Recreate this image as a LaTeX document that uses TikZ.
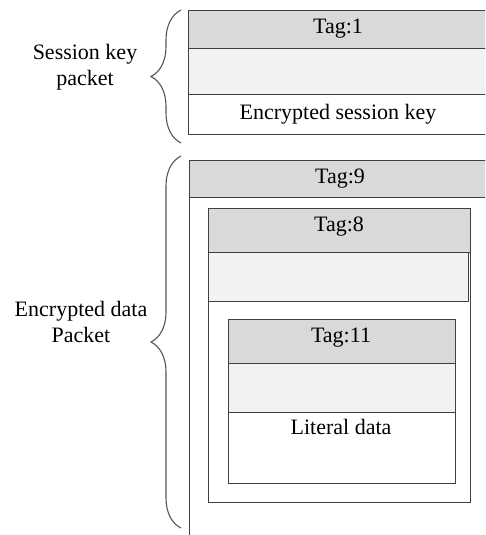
\documentclass[tikz,border=0pt]{standalone}
\usepackage{fontspec}
\setmainfont{Liberation Serif}
\newfontfamily\pktserif{Liberation Serif}
\usetikzlibrary{decorations.pathreplacing}
\definecolor{tagfill}{HTML}{D9D9D9}
\definecolor{midfill}{HTML}{F2F2F2}
\definecolor{edge}{HTML}{404040}
\definecolor{bracec}{HTML}{555555}
\tikzset{
  row/.style={draw=edge, line width=1.4pt, rectangle, inner sep=0pt, anchor=north west},
  tagrow/.style={row, fill=tagfill},
  midrow/.style={row, fill=midfill},
  whiterow/.style={row, fill=white},
  box/.style={draw=edge, line width=1.4pt, rectangle, inner sep=0pt, anchor=north west, fill=white},
  txt/.style={font=\pktserif\fontsize{22}{26}\selectfont, text=black, anchor=base, inner sep=0pt},
  lbl/.style={font=\pktserif\fontsize{22}{26}\selectfont, text=black, align=center, inner sep=0pt},
  curly/.style={draw=bracec, line width=1.1pt, decorate, decoration={brace, amplitude=30pt, aspect=0.5}}
}
\begin{document}
\begin{tikzpicture}[x=1pt, y=-1pt]
\useasboundingbox (0,0) rectangle (485,535);
\clip (0,0) rectangle (485,535);
\fill[white] (0,0) rectangle (485,535);

% Session key packet
\node[tagrow, minimum width=300pt, minimum height=38pt] (t1) at (188,10) {};
\node[midrow, minimum width=300pt, minimum height=46pt] (m1) at (188,48) {};
\node[whiterow, minimum width=300pt, minimum height=40pt] (w1) at (188,94) {};
\node[txt] (t1txt) at (338,34) {Tag:1};
\node[txt] (w1txt) at (338,119) {Encrypted session key};

% Encrypted data packet (Tag 9)
\node[box, minimum width=300pt, minimum height=400pt] (b9) at (189,160) {};
\node[tagrow, minimum width=300pt, minimum height=37pt] (t9) at (189,160) {};
\node[txt] (t9txt) at (340,183) {Tag:9};

% Tag 8
\node[box, minimum width=262pt, minimum height=294pt] (b8) at (208,208) {};
\node[tagrow, minimum width=262pt, minimum height=44pt] (t8) at (208,208) {};
\node[midrow, minimum width=260pt, minimum height=49pt] (m8) at (208,252) {};
\node[txt] (t8txt) at (339,231) {Tag:8};

% Tag 11
\node[box, minimum width=227pt, minimum height=164pt] (b11) at (228,319) {};
\node[tagrow, minimum width=227pt, minimum height=44pt] (t11) at (228,319) {};
\node[midrow, minimum width=227pt, minimum height=49pt] (m11) at (228,363) {};
\node[txt] (t11txt) at (341,342) {Tag:11};
\node[txt] (ldtxt) at (341,434) {Literal data};

% Braces
\coordinate (br1a) at (181,143);
\coordinate (br1b) at (181,10);
\draw[curly] (br1a) -- (br1b);
\coordinate (br2a) at (181,528);
\coordinate (br2b) at (181,156);
\draw[curly] (br2a) -- (br2b);

% Labels
\node[lbl] (lab1) at (85,67) {Session key\\packet};
\node[lbl] (lab2) at (81,322) {Encrypted data\\Packet};
\end{tikzpicture}
\end{document}
